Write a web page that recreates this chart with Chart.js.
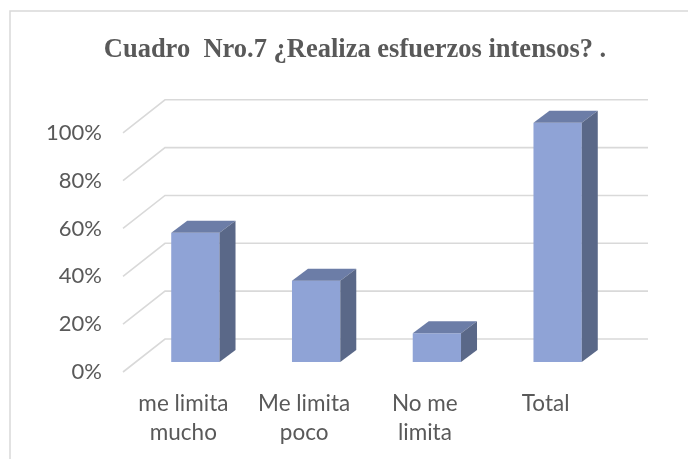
<!DOCTYPE html>
<html>
<head>
<meta charset="utf-8">
<script src="https://cdn.jsdelivr.net/npm/chart.js@4.4.0/dist/chart.umd.min.js"></script>
<style>
  body { margin: 0; background: #fff; }
  #wrap { width: 688px; height: 459px; }
</style>
</head>
<body>
<div id="wrap"><canvas id="esfuerzosChart" width="688" height="459"></canvas></div>
<script>
// Data
const categories = [['me limita', 'mucho'], ['Me limita', 'poco'], ['No me', 'limita'], 'Total'];
const percentValues = [54, 34, 12, 100];
const tickValues = [0, 20, 40, 60, 80, 100];

// 3D look
const depthX = 42, depthY = -33;      // back wall offset
const barShiftX = 12, barShiftY = -10; // bar front face offset
const barDepthX = 16, barDepthY = -12;
const frontColor = '#8FA3D6';
const topColor = '#6C7DA7';
const sideColor = '#5A6888';
const gridColor = '#d9d9d9';

const frame3d = {
  id: 'frame3d',
  beforeDraw(chart) {
    const c = chart.ctx;
    c.save();
    c.strokeStyle = gridColor;
    c.lineWidth = 1.5;
    c.beginPath();
    c.moveTo(10, chart.height);
    c.lineTo(10, 11);
    c.lineTo(chart.width, 11);
    c.stroke();
    c.restore();
  },
  beforeDatasetsDraw(chart) {
    const c = chart.ctx;
    const y = chart.scales.y;
    const area = chart.chartArea;
    c.save();
    c.strokeStyle = gridColor;
    c.lineWidth = 1.6;
    y.ticks.forEach(t => {
      const py = y.getPixelForValue(t.value);
      c.beginPath();
      c.moveTo(area.left, py);
      c.lineTo(area.left + depthX, py + depthY);
      c.lineTo(area.right + depthX, py + depthY);
      c.stroke();
    });
    c.restore();
  },
  afterDatasetsDraw(chart) {
    const c = chart.ctx;
    const meta = chart.getDatasetMeta(0);
    c.save();
    meta.data.forEach(bar => {
      const p = bar.getProps(['x', 'y', 'base', 'width'], true);
      const l = p.x - p.width / 2 + barShiftX;
      const r = p.x + p.width / 2 + barShiftX;
      const t = p.y + barShiftY;
      const b = p.base + barShiftY;
      // front
      c.fillStyle = frontColor;
      c.fillRect(l, t, r - l, b - t);
      // top
      c.fillStyle = topColor;
      c.beginPath();
      c.moveTo(l, t);
      c.lineTo(l + barDepthX, t + barDepthY);
      c.lineTo(r + barDepthX, t + barDepthY);
      c.lineTo(r, t);
      c.closePath();
      c.fill();
      // side
      c.fillStyle = sideColor;
      c.beginPath();
      c.moveTo(r, t);
      c.lineTo(r + barDepthX, t + barDepthY);
      c.lineTo(r + barDepthX, b + barDepthY);
      c.lineTo(r, b);
      c.closePath();
      c.fill();
    });
    c.restore();
  }
};

new Chart(document.getElementById('esfuerzosChart'), {
  type: 'bar',
  data: {
    labels: categories,
    datasets: [{
      data: percentValues,
      backgroundColor: 'rgba(0,0,0,0)',
      borderWidth: 0,
      barPercentage: 0.4,
      categoryPercentage: 1,
      clip: false
    }]
  },
  options: {
    responsive: false,
    devicePixelRatio: 1,
    animation: false,
    layout: { padding: { left: 30, right: 8, top: 0, bottom: 0 } },
    plugins: {
      legend: { display: false },
      tooltip: { enabled: false },
      title: {
        display: true,
        text: 'Cuadro  Nro.7 ¿Realiza esfuerzos intensos? .',
        color: '#595959',
        font: { family: '"Liberation Serif", serif', size: 26.5, weight: 'bold', lineHeight: 1.2 },
        padding: { top: 34, bottom: 67 }
      }
    },
    scales: {
      x: {
        grid: { display: false, drawTicks: false },
        border: { display: false },
        ticks: {
          color: '#595959',
          font: { family: 'Lato', size: 22.5, lineHeight: 1.29 },
          padding: 17,
          maxRotation: 0,
          autoSkip: false
        },
        afterFit(scale) { scale.height = 87; }
      },
      y: {
        min: 0,
        max: 100,
        grid: { display: false, drawTicks: false },
        border: { display: false },
        afterBuildTicks(scale) { scale.ticks = tickValues.map(v => ({ value: v })); },
        ticks: {
          color: '#595959',
          font: { family: 'Lato', size: 22 },
          padding: 21,
          callback: v => v + '%'
        },
        afterFit(scale) { scale.width = 93; }
      },
      // empty right-hand axis that only reserves room for the back wall
      yRight: {
        position: 'right',
        grid: { display: false, drawTicks: false },
        border: { display: false },
        ticks: { display: false },
        afterFit(scale) { scale.width = 74; }
      }
    }
  },
  plugins: [frame3d]
});
</script>
</body>
</html>
